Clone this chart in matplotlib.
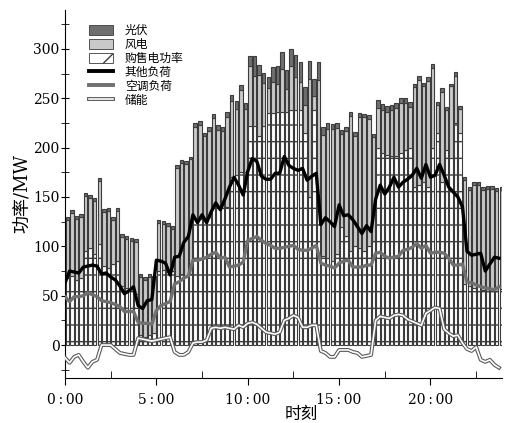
import numpy as np
import matplotlib
matplotlib.use('Agg')
import matplotlib.pyplot as plt
import matplotlib.patheffects as pe
from matplotlib.patches import Patch
from matplotlib.lines import Line2D
from matplotlib.ticker import MultipleLocator

# one value every 15 min, 96 per day (MW)
pv = [3, 3, 3, 3, 3, 3, 3, 3, 3, 3, 3, 3, 3, 3, 3, 3,
      3, 3, 3, 3, 3, 3, 3, 3, 3, 3, 3, 3, 4, 4, 3, 4,
      4, 5, 4, 5, 6, 8, 5, 6, 10, 20, 10, 10, 12, 15, 18, 17,
      20, 17, 22, 20, 18, 18, 18, 18, 8, 6, 5, 5, 4, 4, 4, 4,
      4, 3, 4, 3, 8, 6, 6, 5, 5, 5, 5, 5, 4, 4, 4, 4,
      4, 3, 4, 3, 3, 4, 3, 3, 3, 3, 3, 3, 3, 3, 3, 3]
wind = [59, 64, 62, 62, 56, 51, 54, 64, 55, 58, 45, 51, 49, 49, 50, 52,
        59, 58, 59, 55, 49, 47, 47, 43, 109, 112, 113, 116, 93, 95, 84, 87,
        90, 78, 75, 91, 77, 67, 83, 64, 61, 51, 62, 44, 25, 32, 29, 44,
        23, 45, 34, 29, 28, 120, 14, 117, 123, 131, 134, 128, 94, 107, 137, 112,
        133, 136, 129, 106, 40, 43, 43, 46, 48, 50, 47, 41, 101, 107, 97, 108,
        81, 28, 91, 40, 72, 48, 24, 105, 97, 104, 102, 101, 103, 103, 101, 100]
grid = [68, 70, 66, 68, 95, 98, 92, 102, 80, 78, 82, 85, 60, 58, 55, 52,
        10, 8, 10, 12, 75, 76, 74, 75, 70, 72, 70, 72, 128, 128, 128, 130,
        140, 140, 142, 140, 170, 172, 175, 175, 222, 222, 212, 222, 235, 235, 236, 236,
        236, 238, 238, 238, 215, 150, 238, 152, 90, 88, 85, 92, 120, 110, 95, 100,
        98, 95, 100, 105, 200, 195, 193, 192, 192, 195, 198, 200, 160, 162, 165, 160,
        200, 215, 165, 198, 190, 225, 215, 62, 60, 58, 60, 56, 55, 55, 55, 57]
other_load = [63, 75, 74, 73, 79, 80, 81, 80, 72, 73, 69, 66, 60, 52, 55, 59,
              40, 37, 45, 46, 86, 85, 83, 71, 89, 90, 104, 110, 132, 124, 132, 124,
              135, 144, 137, 148, 160, 170, 162, 152, 176, 189, 186, 171, 168, 168, 174, 174,
              191, 182, 179, 177, 179, 167, 171, 174, 122, 129, 125, 120, 142, 131, 132, 127,
              120, 113, 121, 115, 148, 162, 153, 160, 170, 160, 165, 168, 172, 179, 169, 183,
              170, 172, 183, 172, 160, 155, 150, 140, 95, 91, 92, 93, 75, 82, 89, 88]
ac_load = [49, 44, 49, 49, 50, 53, 51, 49, 45, 44, 43, 41, 39, 34, 34, 34,
           23, 22, 22, 21, 35, 40, 42, 44, 62, 64, 68, 70, 86, 86, 87, 89,
           92, 94, 88, 89, 79, 80, 81, 84, 106, 108, 110, 106, 103, 101, 98, 98,
           99, 100, 101, 97, 96, 96, 98, 101, 83, 81, 80, 78, 83, 85, 86, 79,
           79, 79, 81, 81, 93, 94, 90, 88, 89, 90, 96, 97, 99, 103, 98, 101,
           93, 94, 94, 93, 88, 81, 81, 82, 64, 63, 61, 59, 58, 57, 56, 59]
storage = [-13, -18, -12, -10, -17, -23, -17, -15, 0, 0, 0, -4, -8, -9, -10, -10,
           7, 6, 5, 4, 5, 6, 7, 8, -7, -10, -10, -7, 2, 3, 3, 5,
           17, 18, 17, 18, 17, 16, 20, 18, 22, 23, 21, 17, 13, 12, 11, 13,
           25, 27, 30, 28, 18, 18, 20, 20, -6, -8, -12, -12, -5, -5, -5, -7,
           -8, -12, -11, -10, 25, 29, 28, 27, 30, 31, 30, 26, 24, 22, 20, 32,
           35, 38, 37, 16, 12, 9, 10, 2, -4, -6, -2, -15, -17, -15, -20, -23]

hour_ticks = [0, 5, 10, 15, 20]
hour_labels = [f'{h}\u2009:\u200900' for h in hour_ticks]

FONT = ['DejaVu Serif', 'Noto Sans CJK SC']
plt.rcParams['font.family'] = FONT
plt.rcParams['hatch.linewidth'] = 1.0

c_pv = '#6f6f6f'
c_wind = '#c9c9c9'
c_edge = '#3c3c3c'
c_ac = '#707070'


def main():
    fig = plt.figure(figsize=(5.1, 4.23), dpi=100)
    ax = fig.add_axes([0.1275, 0.1064, 0.857, 0.87])

    t = np.arange(len(grid)) * 0.25
    pv_a, wind_a, grid_a = np.array(pv), np.array(wind), np.array(grid)

    # stacked bars: grid exchange, wind on top, pv on top of that
    w = 0.19
    ax.bar(t + 0.125, grid_a, width=w, color='white', edgecolor=c_edge,
           hatch='-', linewidth=0.8, zorder=2)
    ax.bar(t + 0.125, wind_a, width=w, bottom=grid_a, color=c_wind,
           edgecolor=c_edge, linewidth=0.8, zorder=2)
    ax.bar(t + 0.125, pv_a, width=w, bottom=grid_a + wind_a, color=c_pv,
           edgecolor=c_edge, linewidth=0.8, zorder=2)

    ax.plot(t, other_load, color='black', linewidth=2.4, zorder=4)
    ax.plot(t, ac_load, color=c_ac, linewidth=2.4, zorder=4)
    outline = [pe.Stroke(linewidth=2.8, foreground='#5a5a5a'), pe.Normal()]
    ax.plot(t, storage, color='white', linewidth=1.2, zorder=4,
            path_effects=outline)

    ax.set_xlim(0, 23.92)
    ax.set_ylim(-33.4, 339.5)
    for side in ['top', 'right']:
        ax.spines[side].set_visible(False)

    ax.set_xticks(hour_ticks)
    ax.set_xticklabels(hour_labels)
    ax.xaxis.set_minor_locator(MultipleLocator(2.5))
    ax.tick_params(axis='x', which='major', direction='out', length=5,
                   labelsize=10, pad=6)
    ax.tick_params(axis='x', which='minor', direction='in', length=5)
    ax.yaxis.set_major_locator(MultipleLocator(50))
    ax.yaxis.set_minor_locator(MultipleLocator(25))
    ax.tick_params(axis='y', which='both', direction='inout', length=6,
                   labelsize=10, pad=1)

    ax.set_xlabel('时刻', fontsize=12, labelpad=0)
    ax.xaxis.set_label_coords(0.54, -0.075)
    ax.set_ylabel('功率/MW', fontsize=13, labelpad=1)

    handles = [
        Patch(facecolor=c_pv, edgecolor=c_edge, linewidth=0.6),
        Patch(facecolor=c_wind, edgecolor=c_edge, linewidth=0.6),
        Patch(facecolor='white', edgecolor=c_edge, linewidth=0.6, hatch='/'),
        Line2D([], [], color='black', linewidth=2.8),
        Line2D([], [], color=c_ac, linewidth=2.8),
        Line2D([], [], color='white', linewidth=1.2, path_effects=outline),
    ]
    labels = ['光伏', '风电', '购售电功率', '其他负荷', '空调负荷', '储能']
    ax.legend(handles, labels, loc='upper left', bbox_to_anchor=(0.045, 0.975),
              frameon=False, fontsize=8.5, handlelength=2.0, handleheight=0.9,
              handletextpad=1.0, labelspacing=0.08, borderaxespad=0)

    fig.savefig('out.png', dpi=100)


if __name__ == '__main__':
    main()
